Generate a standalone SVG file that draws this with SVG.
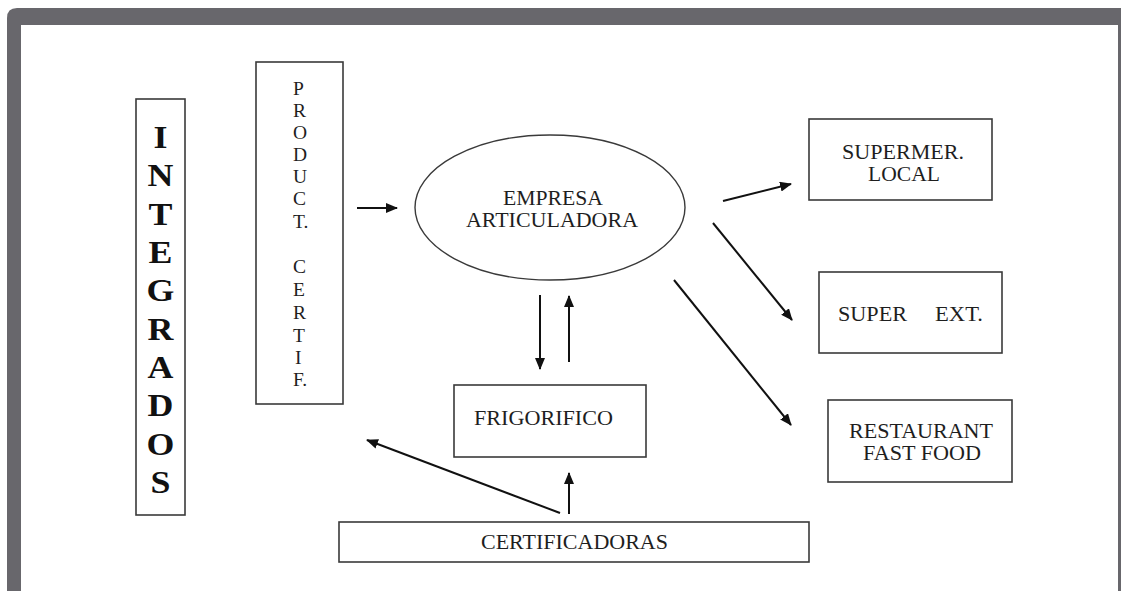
<svg xmlns="http://www.w3.org/2000/svg" width="1121" height="591" viewBox="0 0 1121 591">
<style>
.box{fill:#fff;stroke:#3a3a3a;stroke-width:1.6}
.t{font-family:"Liberation Serif","Times New Roman",serif;font-size:21px;fill:#1e1e1e}
.v{font-family:"Liberation Serif","Times New Roman",serif;font-size:19.5px;fill:#1e1e1e}
.b{font-family:"Liberation Serif","Times New Roman",serif;font-size:32px;font-weight:bold;fill:#111;text-anchor:middle}
.c{stroke:#111;stroke-width:2;fill:none;marker-end:url(#ah)}
</style>
<defs>
<marker id="ah" markerUnits="userSpaceOnUse" markerWidth="12" markerHeight="10" refX="11" refY="5" orient="auto">
<path d="M0,0 L12,5 L0,10 Z" fill="#111"/>
</marker>
</defs>
<g id="frame">
<path d="M7,591 L7,18 Q7,8 17,8 L1121,8 L1121,591 Z" fill="#68676c"/>
<rect x="21" y="25" width="1097" height="566" fill="#fff"/>
</g>
<g id="integrados">
<rect class="box" x="136" y="99" width="49" height="416"/>
<g transform="translate(160.5 0) scale(1.12 1)">
<text class="b" x="0" y="148">I</text>
<text class="b" x="0" y="186">N</text>
<text class="b" x="0" y="225">T</text>
<text class="b" x="0" y="263">E</text>
<text class="b" x="0" y="301">G</text>
<text class="b" x="0" y="340">R</text>
<text class="b" x="0" y="378">A</text>
<text class="b" x="0" y="416">D</text>
<text class="b" x="0" y="455">O</text>
<text class="b" x="0" y="493">S</text>
</g>
</g>
<g id="product">
<rect class="box" x="256" y="62" width="87" height="342"/>
<text class="v" x="293" y="95">P</text>
<text class="v" x="293" y="117">R</text>
<text class="v" x="293" y="139">O</text>
<text class="v" x="293" y="161">D</text>
<text class="v" x="293" y="183">U</text>
<text class="v" x="293" y="205">C</text>
<text class="v" x="293" y="228">T.</text>
<text class="v" x="293" y="273">C</text>
<text class="v" x="293" y="296">E</text>
<text class="v" x="293" y="319">R</text>
<text class="v" x="293" y="342">T</text>
<text class="v" x="295" y="364">I</text>
<text class="v" x="293" y="386">F.</text>
</g>
<g id="empresa">
<ellipse cx="550" cy="207.5" rx="135" ry="72.5" fill="#fff" stroke="#3a3a3a" stroke-width="1.4"/>
<text class="t" x="503" y="205" textLength="100" lengthAdjust="spacingAndGlyphs">EMPRESA</text>
<text class="t" x="466" y="227" textLength="172" lengthAdjust="spacingAndGlyphs">ARTICULADORA</text>
</g>
<g id="frigorifico">
<rect class="box" x="454" y="385" width="192" height="72"/>
<text class="t" x="474" y="425" textLength="139" lengthAdjust="spacingAndGlyphs">FRIGORIFICO</text>
</g>
<g id="certificadoras">
<rect class="box" x="339" y="522" width="470" height="40"/>
<text class="t" x="481" y="549" textLength="187" lengthAdjust="spacingAndGlyphs">CERTIFICADORAS</text>
</g>
<g id="supermer">
<rect class="box" x="809" y="119" width="183" height="81"/>
<text class="t" x="842" y="159" textLength="122" lengthAdjust="spacingAndGlyphs">SUPERMER.</text>
<text class="t" x="868" y="181" textLength="72" lengthAdjust="spacingAndGlyphs">LOCAL</text>
</g>
<g id="superext">
<rect class="box" x="819" y="272" width="183" height="81"/>
<text class="t" x="838" y="321" textLength="69" lengthAdjust="spacingAndGlyphs">SUPER</text>
<text class="t" x="935" y="321" textLength="48" lengthAdjust="spacingAndGlyphs">EXT.</text>
</g>
<g id="restaurant">
<rect class="box" x="828" y="400" width="184" height="82"/>
<text class="t" x="849" y="438" textLength="144" lengthAdjust="spacingAndGlyphs">RESTAURANT</text>
<text class="t" x="863" y="460" textLength="118" lengthAdjust="spacingAndGlyphs">FAST FOOD</text>
</g>
<g id="connectors">
<line class="c" x1="357" y1="208" x2="397" y2="208"/>
<line class="c" x1="723" y1="201" x2="791" y2="184"/>
<line class="c" x1="713" y1="223" x2="792" y2="320"/>
<line class="c" x1="674" y1="280" x2="791" y2="425"/>
<line class="c" x1="540" y1="295" x2="540" y2="369"/>
<line class="c" x1="569" y1="362" x2="569" y2="296"/>
<line class="c" x1="569" y1="514" x2="569" y2="473"/>
<line class="c" x1="560" y1="513" x2="367" y2="440"/>
</g>
</svg>
